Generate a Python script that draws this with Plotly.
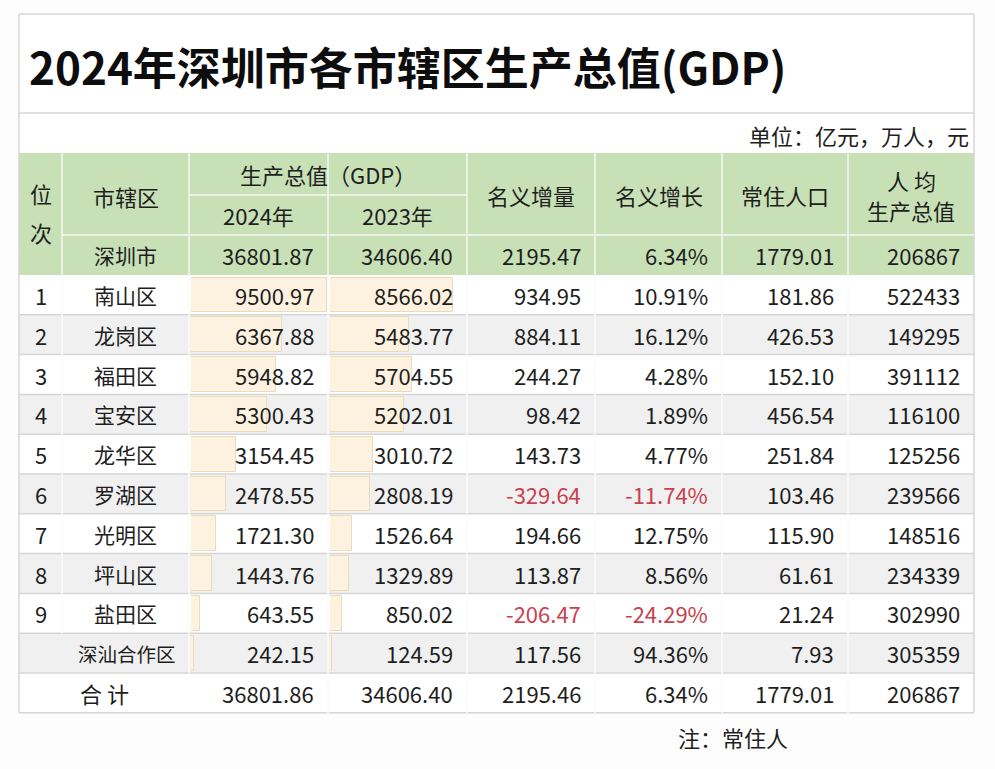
"""2024年深圳市各市辖区生产总值(GDP) — 表格 + 数据条
单元格用 shapes，文字用 annotations，GDP 两列的数据条用独立 x 轴上的横向 Bar。
"""
import plotly.graph_objects as go

W, H = 995, 769
FONT = 'Noto Sans CJK SC'

# ---- data ----
ranks = ['1', '2', '3', '4', '5', '6', '7', '8', '9']
districts = ['南山区', '龙岗区', '福田区', '宝安区', '龙华区', '罗湖区', '光明区', '坪山区', '盐田区']
gdp_2024 = [9500.97, 6367.88, 5948.82, 5300.43, 3154.45, 2478.55, 1721.30, 1443.76, 643.55]
gdp_2023 = [8566.02, 5483.77, 5704.55, 5202.01, 3010.72, 2808.19, 1526.64, 1329.89, 850.02]
increase = [934.95, 884.11, 244.27, 98.42, 143.73, -329.64, 194.66, 113.87, -206.47]
growth = [10.91, 16.12, 4.28, 1.89, 4.77, -11.74, 12.75, 8.56, -24.29]
population = [181.86, 426.53, 152.10, 456.54, 251.84, 103.46, 115.90, 61.61, 21.24]
per_capita = [522433, 149295, 391112, 116100, 125256, 239566, 148516, 234339, 302990]

city_row = ['深圳市', 36801.87, 34606.40, 2195.47, 6.34, 1779.01, 206867]
shenshan_row = ['深汕合作区', 242.15, 124.59, 117.56, 94.36, 7.93, 305359]
total_row = ['合 计', 36801.86, 34606.40, 2195.46, 6.34, 1779.01, 206867]

TITLE = '2024年深圳市各市辖区生产总值(GDP)'
UNIT = '单位：亿元，万人，元'
NOTE = '注：常住人'

# ---- layout geometry (pixels) ----
COLS = [19, 62, 189, 328, 467, 595, 722, 848, 974]
Y_TITLE, Y_UNIT, Y_HDR1, Y_HDR2, Y_CITY = 14, 113, 153, 195, 235
Y_ROWS = 275
ROW_H = 39.8
n_rows = len(districts) + 2            # 9 区 + 深汕 + 合计
row_top = [Y_ROWS + i * ROW_H for i in range(n_rows)]
Y_END = Y_ROWS + n_rows * ROW_H

GREEN = '#c8e0b6'
GREY = '#f0f0f0'
GRID = '#d6d6d6'
TXT = '#1e1e1e'
RED = '#c8414e'
BAR = '#fdf2df'
BAR_LINE = '#e8dcba'
FS = 22        # 正文字号

shapes = []
ann = []


def rect(x0, y0, x1, y1, color):
    shapes.append(dict(type='rect', xref='x', yref='y', x0=x0, y0=y0, x1=x1, y1=y1,
                       fillcolor=color, line=dict(width=0), layer='below'))


def line(x0, y0, x1, y1, color, w=1.2):
    shapes.append(dict(type='line', xref='x', yref='y', x0=x0, y0=y0, x1=x1, y1=y1,
                       line=dict(color=color, width=w), layer='below'))


def text(x, y, s, anchor='center', color=TXT, size=FS, bold=False):
    ann.append(dict(x=x, y=y, xref='x', yref='y', text=s, showarrow=False,
                    xanchor=anchor, yanchor='middle',
                    font=dict(family=FONT, size=size, color=color,
                              weight='bold' if bold else 'normal')))


# backgrounds
rect(COLS[0], Y_TITLE, COLS[-1], Y_HDR1, 'white')
rect(COLS[0], Y_HDR1, COLS[-1], Y_ROWS, GREEN)
for i in range(n_rows):
    rect(COLS[0], row_top[i], COLS[-1], row_top[i] + ROW_H, GREY if i % 2 == 1 else 'white')

# outer border + title separators
for (x0, y0, x1, y1) in [(COLS[0], Y_TITLE, COLS[-1], Y_TITLE),
                         (COLS[0], Y_UNIT, COLS[-1], Y_UNIT),
                         (COLS[0], Y_TITLE, COLS[0], Y_END),
                         (COLS[-1], Y_TITLE, COLS[-1], Y_END),
                         (COLS[0], Y_END, COLS[-1], Y_END)]:
    line(x0, y0, x1, y1, GRID, 1.5)

# header grid (white lines on green)
for c in COLS[1:-1]:
    line(c, Y_HDR1, c, Y_ROWS, '#f4f8f0', 1.5)
line(COLS[2], Y_HDR2, COLS[4], Y_HDR2, '#f4f8f0', 1.5)
line(COLS[1], Y_CITY, COLS[-1], Y_CITY, '#f4f8f0', 1.5)

# body grid（深汕、合计两行的前两列合并）
for i in range(1, n_rows):
    line(COLS[0], row_top[i], COLS[-1], row_top[i], GRID, 1.5)
line(COLS[1], Y_ROWS, COLS[1], row_top[9], '#fbfbfb', 1.5)
line(COLS[2], Y_ROWS, COLS[2], row_top[10], '#fbfbfb', 1.5)
for c in COLS[3:-1]:
    line(c, Y_ROWS, c, Y_END, '#fbfbfb', 1.5)

# title / unit / note
text(27, 66, TITLE, anchor='left', size=44, bold=True, color='#0d0d0d')
text(971, 135, UNIT, anchor='right')
text(676, 737, NOTE, anchor='left')

# header texts
cx = [(COLS[i] + COLS[i + 1]) / 2 for i in range(len(COLS) - 1)]
text(cx[0], 193, '位')
text(cx[0], 232, '次')
text(cx[1], 196, '市辖区')
text((COLS[2] + COLS[4]) / 2, 174, '生产总值（GDP）')
text(cx[2], 215, '2024年')
text(cx[3], 215, '2023年')
text(cx[4], 195, '名义增量')
text(cx[5], 195, '名义增长')
text(cx[6], 195, '常住人口')
text(cx[7], 180, '人 均')
text(cx[7], 210, '生产总值')

PAD = 12


def value_cells(y, vals, red=False):
    fmts = ['{:.2f}', '{:.2f}', '{:.2f}', '{:.2f}%', '{:.2f}', '{:d}']
    for k, (v, f) in enumerate(zip(vals, fmts)):
        col = RED if (red and k in (2, 3)) else TXT
        text(COLS[k + 3] - PAD, y, f.format(v), anchor='right', color=col)


ymid_city = (Y_CITY + Y_ROWS) / 2
text(cx[1], ymid_city, city_row[0], size=21)
value_cells(ymid_city, city_row[1:])

for i in range(len(districts)):
    ym = row_top[i] + ROW_H / 2
    text(cx[0], ym, ranks[i])
    text(cx[1], ym, districts[i], size=21)
    value_cells(ym, [gdp_2024[i], gdp_2023[i], increase[i], growth[i], population[i], per_capita[i]],
                red=increase[i] < 0)

ym = row_top[9] + ROW_H / 2
text(cx[1] + 1, ym, shenshan_row[0], size=19.5)
value_cells(ym, shenshan_row[1:])

ym = row_top[10] + ROW_H / 2
text((COLS[0] + COLS[2]) / 2, ym, total_row[0])
value_cells(ym, total_row[1:])

# ---- data bars (shared scale: max 2024 value fills the cell) ----
bar_rows = [row_top[i] + ROW_H / 2 for i in range(10)]
bar_2024 = gdp_2024 + [shenshan_row[1]]
bar_2023 = gdp_2023 + [shenshan_row[2]]
scale_max = max(gdp_2024)

fig = go.Figure()
for vals, ax in [(bar_2024, 'x2'), (bar_2023, 'x3')]:
    fig.add_trace(go.Bar(
        x=vals, y=bar_rows, orientation='h', xaxis=ax, yaxis='y',
        width=ROW_H - 5, marker=dict(color=BAR, line=dict(color=BAR_LINE, width=1)),
        showlegend=False, hoverinfo='skip',
    ))

fig.update_layout(
    width=W, height=H,
    margin=dict(l=0, r=0, t=0, b=0),
    paper_bgcolor='#fdfdfd', plot_bgcolor='rgba(0,0,0,0)',
    xaxis=dict(range=[0, W], domain=[0, 1], visible=False, fixedrange=True),
    yaxis=dict(range=[H, 0], domain=[0, 1], visible=False, fixedrange=True),
    xaxis2=dict(domain=[(COLS[2] + 2) / W, (COLS[3] - 1) / W], range=[0, scale_max],
                anchor='y', visible=False, fixedrange=True),
    xaxis3=dict(domain=[(COLS[3] + 2) / W, (COLS[4] - 1) / W], range=[0, scale_max],
                anchor='y', visible=False, fixedrange=True),
    shapes=shapes,
    annotations=ann,
    bargap=0,
)

fig.write_html('out.html', config={'displayModeBar': False},
               post_script="document.body.style.margin='0';")
